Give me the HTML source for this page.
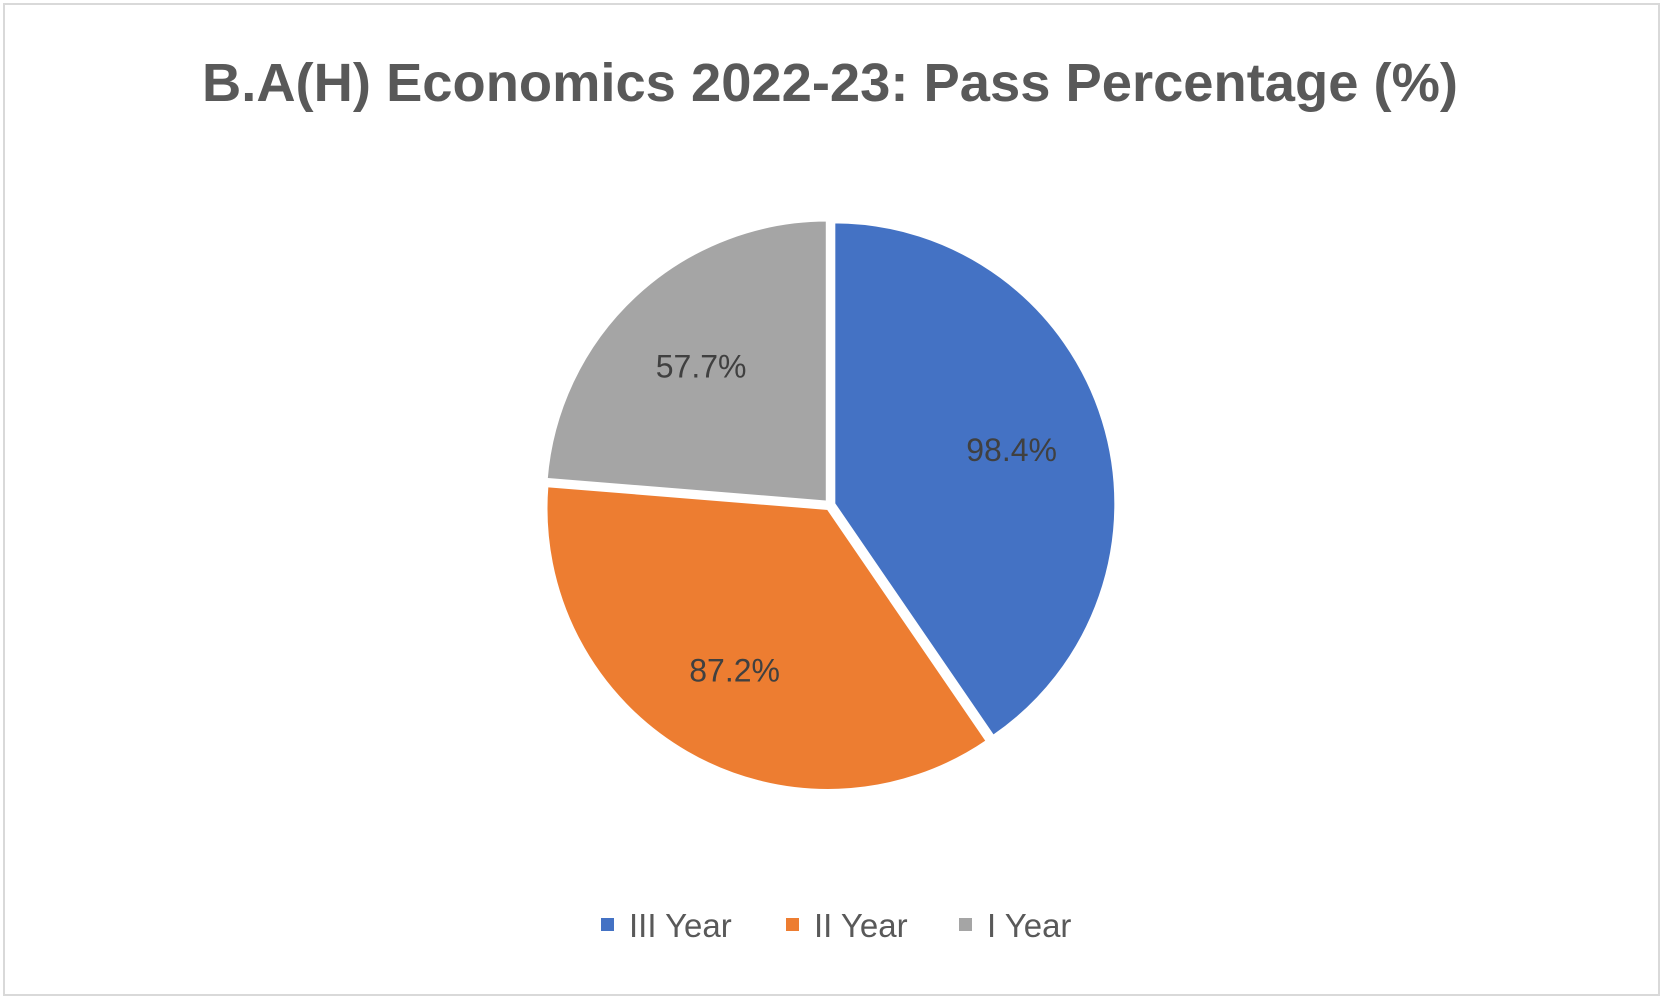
<!DOCTYPE html>
<html><head><meta charset="utf-8"><style>
html,body{margin:0;padding:0;background:#fff;}
svg{display:block;font-family:"Liberation Sans",sans-serif;}
</style></head><body>
<svg width="1663" height="999" viewBox="0 0 1663 999">
<rect x="4" y="4" width="1655" height="991" fill="#fff" stroke="#d9d9d9" stroke-width="2"/>
<text x="830" y="101" text-anchor="middle" font-size="54" font-weight="bold" fill="#595959" textLength="1256" lengthAdjust="spacingAndGlyphs">B.A(H) Economics 2022-23: Pass Percentage (%)</text>
<g id="slices"></g>
<g id="labels"></g>
<g id="legend"></g>
<script>
const categories = ["III Year", "II Year", "I Year"];
const values = [98.4, 87.2, 57.7];
const valueLabels = ["98.4%", "87.2%", "57.7%"];
const colors = ["#4472c4", "#ed7d31", "#a5a5a5"];
const NS = "http://www.w3.org/2000/svg";
const cx = 830, cy = 505, r = 282;
const total = values.reduce((a, b) => a + b, 0);
const sg = document.getElementById("slices");
const lg = document.getElementById("labels");
const leg = document.getElementById("legend");
function pt(a, rad) { return [cx + Math.sin(a) * rad, cy - Math.cos(a) * rad]; }
let start = 0;
values.forEach((v, i) => {
  const sweep = v / total * 2 * Math.PI;
  const end = start + sweep;
  const mid = start + sweep / 2;
  const off = 4;
  const ox = Math.sin(mid) * off, oy = -Math.cos(mid) * off;
  const p1 = pt(start, r), p2 = pt(end, r);
  const large = sweep > Math.PI ? 1 : 0;
  const path = document.createElementNS(NS, "path");
  path.setAttribute("d", `M${cx} ${cy} L${p1[0]} ${p1[1]} A${r} ${r} 0 ${large} 1 ${p2[0]} ${p2[1]} Z`);
  path.setAttribute("fill", colors[i]);
  path.setAttribute("stroke", "#fff");
  path.setAttribute("stroke-width", "3");
  path.setAttribute("transform", `translate(${ox} ${oy})`);
  
  
  sg.appendChild(path);
  const lp = pt(mid, r * 0.66);
  const t = document.createElementNS(NS, "text");
  t.setAttribute("x", lp[0] + ox);
  t.setAttribute("y", lp[1] + oy + 12);
  t.setAttribute("text-anchor", "middle");
  t.setAttribute("font-size", "32");
  t.setAttribute("fill", "#404040");
  t.textContent = valueLabels[i];
  
  
  lg.appendChild(t);
  start = end;
});
const legX = [601, 786, 959];
categories.forEach((c, i) => {
  const g = document.createElementNS(NS, "g");
  
  
  const sq = document.createElementNS(NS, "rect");
  sq.setAttribute("x", legX[i]); sq.setAttribute("y", 918);
  sq.setAttribute("width", 13); sq.setAttribute("height", 13);
  sq.setAttribute("fill", colors[i]);
  
  
  const t = document.createElementNS(NS, "text");
  t.setAttribute("x", legX[i] + 28); t.setAttribute("y", 937);
  t.setAttribute("font-size", "33"); t.setAttribute("fill", "#595959");
  t.textContent = c;
  
  
  g.appendChild(sq); g.appendChild(t);
  leg.appendChild(g);
});
</script>
</svg>
</body></html>
